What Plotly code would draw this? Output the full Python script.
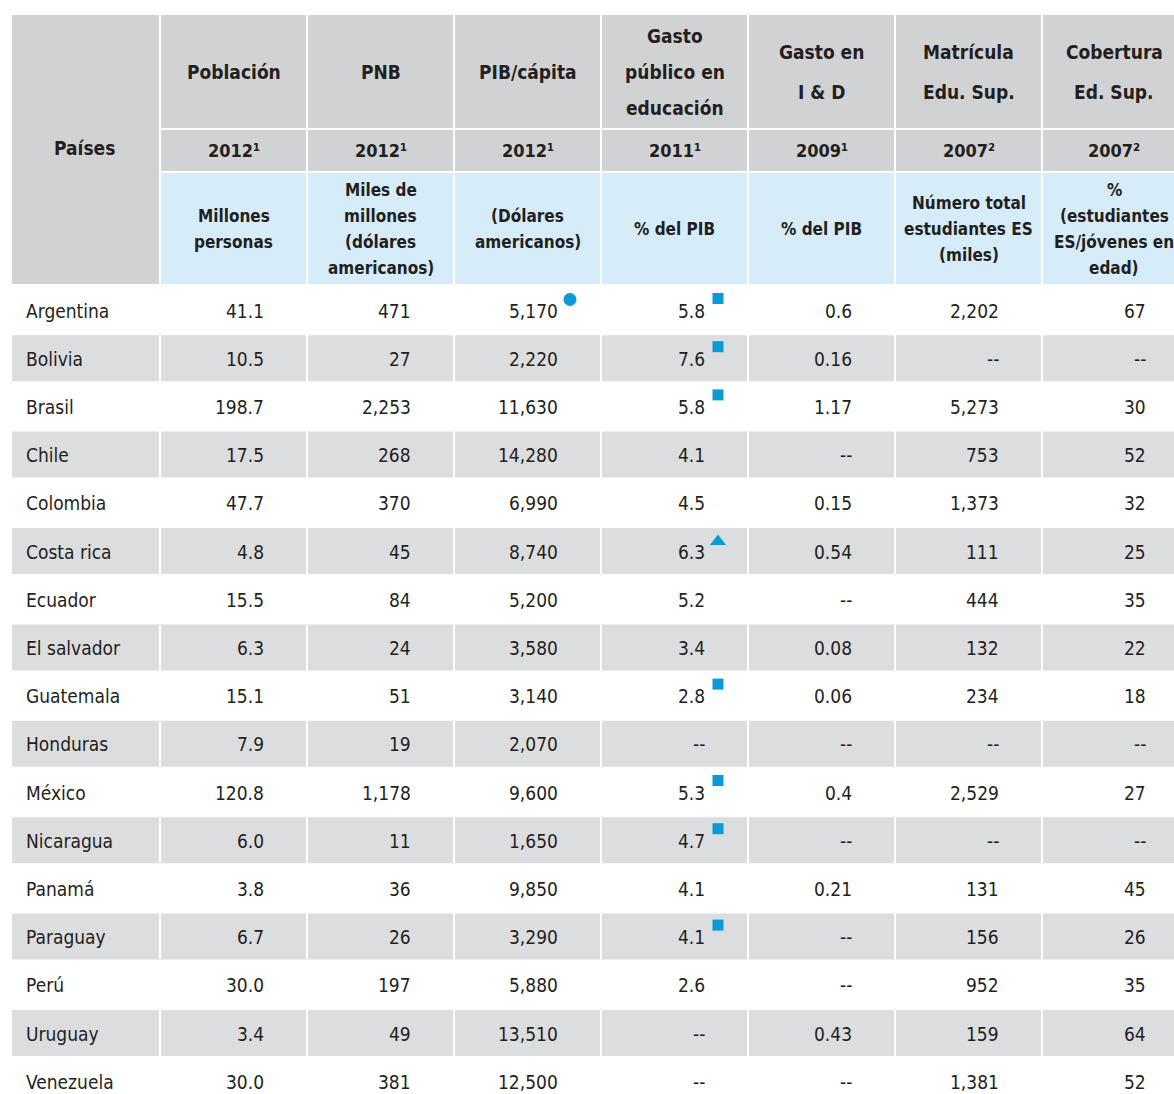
import plotly.graph_objects as go

# ---------------- data ----------------
countries = ["Argentina", "Bolivia", "Brasil", "Chile", "Colombia", "Costa rica", "Ecuador",
             "El salvador", "Guatemala", "Honduras", "México", "Nicaragua", "Panamá",
             "Paraguay", "Perú", "Uruguay", "Venezuela"]
poblacion = [41.1, 10.5, 198.7, 17.5, 47.7, 4.8, 15.5, 6.3, 15.1, 7.9, 120.8, 6.0, 3.8, 6.7, 30.0, 3.4, 30.0]
pnb = [471, 27, 2253, 268, 370, 45, 84, 24, 51, 19, 1178, 11, 36, 26, 197, 49, 381]
pib_capita = [5170, 2220, 11630, 14280, 6990, 8740, 5200, 3580, 3140, 2070, 9600, 1650, 9850, 3290, 5880, 13510, 12500]
gasto_edu = [5.8, 7.6, 5.8, 4.1, 4.5, 6.3, 5.2, 3.4, 2.8, None, 5.3, 4.7, 4.1, 4.1, 2.6, None, None]
gasto_id = [0.6, 0.16, 1.17, None, 0.15, 0.54, None, 0.08, 0.06, None, 0.4, None, 0.21, None, None, 0.43, None]
matricula = [2202, None, 5273, 753, 1373, 111, 444, 132, 234, None, 2529, None, 131, 156, 952, 159, 1381]
cobertura = [67, None, 30, 52, 32, 25, 35, 22, 18, None, 27, None, 45, 26, 35, 64, 52]

header_titles = [["Población"], ["PNB"], ["PIB/cápita"], ["Gasto", "público en", "educación"],
                 ["Gasto en", "I & D"], ["Matrícula", "Edu. Sup."], ["Cobertura", "Ed. Sup."]]
header_years = ["2012¹", "2012¹", "2012¹", "2011¹", "2009¹", "2007²", "2007²"]
header_units = [["Millones", "personas"], ["Miles de", "millones", "(dólares", "americanos)"],
                ["(Dólares", "americanos)"], ["% del PIB"], ["% del PIB"],
                ["Número total", "estudiantes ES", "(miles)"],
                ["%", "(estudiantes", "ES/jóvenes en", "edad)"]]
first_header = "Países"

# note markers by country
pib_marks = {"Argentina": "circle"}
edu_marks = {"Argentina": "square", "Bolivia": "square", "Brasil": "square",
             "Costa rica": "triangle-up", "Guatemala": "square", "México": "square",
             "Nicaragua": "square", "Paraguay": "square"}

# ---------------- style / layout ----------------
W, H = 1174, 1094
FONT = "Liberation Sans Narrow, DejaVu Sans Condensed, Arial Narrow, sans-serif"
TXT = "#231f20"
GREY_HEAD = "#d1d2d4"
BLUE_HEAD = "#d6ecf9"
GREY_ROW = "#dcdddf"
MARK = "#0a9bd7"

edges = [11, 160, 307, 454, 601, 748, 895, 1042, 1186]
h1 = (15, 128)
h2 = (130, 171)
h3 = (173, 284)
row_top0 = 287
row_pitch = 48.2
row_h = 46
RIGHT_PAD = 106
DATA_SIZE = 19
TITLE_SIZE = 19
YEAR_SIZE = 18
UNIT_SIZE = 17


def fmt1(v):
    return "--" if v is None else f"{v:.1f}"


def fmtc(v):
    return "--" if v is None else f"{v:,}"


def fmts(v):
    return "--" if v is None else str(v)


columns = [
    [fmt1(v) for v in poblacion],
    [fmtc(v) for v in pnb],
    [fmtc(v) for v in pib_capita],
    [fmt1(v) for v in gasto_edu],
    [fmts(v) for v in gasto_id],
    [fmtc(v) for v in matricula],
    [fmts(v) for v in cobertura],
]

shapes = []
annotations = []


def rect(x0, x1, y0, y1, color):
    shapes.append(dict(type="rect", xref="x", yref="y", x0=x0, x1=x1, y0=y0, y1=y1,
                       fillcolor=color, line=dict(width=0), layer="below"))


def text(x, y, s, anchor="center", bold=False, size=DATA_SIZE):
    annotations.append(dict(x=x, y=y, xref="x", yref="y", text=s, showarrow=False,
                            xanchor=anchor, yanchor="middle",
                            font=dict(family=FONT, size=size, color=TXT,
                                      weight="bold" if bold else "normal")))


# first column header (merged)
rect(edges[0] + 1, edges[1] - 1, h1[0], h3[1], GREY_HEAD)
text((edges[0] + edges[1]) / 2 - 1, (h1[0] + h3[1]) / 2 - 2, first_header, bold=True, size=TITLE_SIZE)

for j in range(len(header_titles)):
    x0, x1 = edges[j + 1] + 1, edges[j + 2] - 1
    xc = (edges[j + 1] + edges[j + 2]) / 2
    rect(x0, x1, *h1, GREY_HEAD)
    rect(x0, x1, *h2, GREY_HEAD)
    rect(x0, x1, *h3, BLUE_HEAD)
    lines = header_titles[j]
    n = len(lines)
    sp = 36 if n >= 3 else 40
    c = (h1[0] + h1[1]) / 2
    for k, ln in enumerate(lines):
        text(xc, c + (k - (n - 1) / 2) * sp, ln, bold=True, size=TITLE_SIZE)
    text(xc, (h2[0] + h2[1]) / 2, header_years[j], bold=True, size=YEAR_SIZE)
    lines = header_units[j]
    n = len(lines)
    c = (h3[0] + h3[1]) / 2
    for k, ln in enumerate(lines):
        text(xc, c + (k - (n - 1) / 2) * 26, ln, bold=True, size=UNIT_SIZE)

# data rows
marker_x, marker_y, marker_sym, marker_size = [], [], [], []
for i, name in enumerate(countries):
    top = row_top0 + i * row_pitch
    cy = top + 23.5
    if i % 2 == 1:
        for j in range(len(edges) - 1):
            rect(edges[j] + 1, edges[j + 1] - 1, top, top + row_h, GREY_ROW)
    text(24, cy, name, anchor="left")
    for j, col in enumerate(columns):
        xr = edges[j + 1] + RIGHT_PAD
        text(xr, cy, col[i], anchor="right")
    if name in pib_marks:
        marker_x.append(edges[3] + 103 + 13)
        marker_y.append(cy - 11)
        marker_sym.append(pib_marks[name])
        marker_size.append(13)
    if name in edu_marks:
        sym = edu_marks[name]
        marker_x.append(edges[4] + 103 + 14)
        marker_y.append(cy - 12 if sym == "square" else cy - 10)
        marker_sym.append(sym)
        marker_size.append(11 if sym == "square" else 14)

fig = go.Figure()
fig.add_trace(go.Scatter(x=marker_x, y=marker_y, mode="markers",
                         marker=dict(symbol=marker_sym, size=marker_size, color=MARK,
                                     opacity=1, line=dict(width=0)),
                         opacity=1, hoverinfo="skip", showlegend=False))

fig.update_layout(
    width=W, height=H,
    margin=dict(l=0, r=0, t=0, b=0),
    paper_bgcolor="white", plot_bgcolor="white",
    xaxis=dict(range=[0, W], visible=False, fixedrange=True),
    yaxis=dict(range=[H, 0], visible=False, fixedrange=True),
    shapes=shapes, annotations=annotations, showlegend=False,
)

fig.write_html("out.html", config={"displayModeBar": False},
               post_script="document.body.style.margin='0';document.body.style.overflow='hidden';")
